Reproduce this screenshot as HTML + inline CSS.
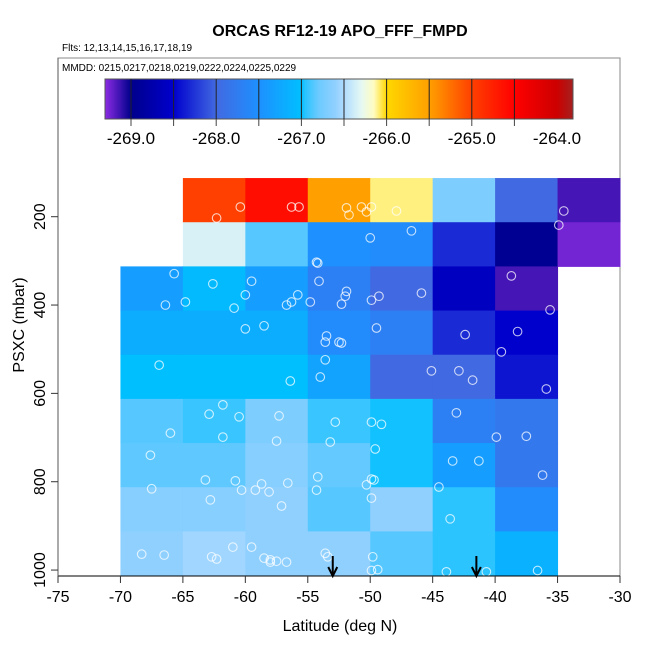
<!DOCTYPE html>
<html><head><meta charset="utf-8">
<style>
html,body{margin:0;padding:0;background:#fff;}
svg{display:block;font-family:"Liberation Sans",Arial,sans-serif;}
</style></head>
<body>
<svg id="chart" width="650" height="650" viewBox="0 0 650 650">
<defs>
<linearGradient id="cbar" x1="0" x2="1" y1="0" y2="0"></linearGradient>
</defs>
<text x="340" y="36" text-anchor="middle" font-size="16" font-weight="bold">ORCAS RF12-19 APO_FFF_FMPD</text>
<text x="62" y="51" font-size="10">Flts: 12,13,14,15,16,17,18,19</text>
<rect x="58" y="58" width="562" height="518" fill="none" stroke="#888" stroke-width="1"/>
<text x="62" y="71" font-size="10">MMDD: 0215,0217,0218,0219,0222,0224,0225,0229</text>
<g id="cells"></g>
<g id="points"></g>
<g id="arrows"></g>
<g id="colorbar"></g>
<g id="xaxis"></g>
<g id="yaxis"></g>
<text x="340" y="631" text-anchor="middle" font-size="16">Latitude (deg N)</text>
<text transform="translate(24,325) rotate(-90)" text-anchor="middle" font-size="16">PSXC (mbar)</text>
</svg>
<script>
const latBins = [-70,-65,-60,-55,-50,-45,-40,-35];
const presBins = [112.5,212.5,312.5,412.5,512.5,612.5,712.5,812.5,912.5];
const row0 = [null,-265.0,-264.6,-265.5,-266.1,-266.7,-268.0,-269.15];
const row1 = [null,-266.35,-266.85,-267.5,-267.55,-268.3,-268.95,-269.25];
const row2 = [-267.35,-267.05,-267.35,-267.7,-268.0,-268.6,-269.15,null];
const row3 = [-267.2,-267.2,-267.2,-267.55,-267.7,-268.3,-268.5,null];
const row4 = [-267.0,-267.0,-267.0,-267.3,-268.0,-268.0,-268.4,null];
const row5 = [-266.85,-266.92,-266.7,-266.92,-266.98,-267.7,-267.8,null];
const row6 = [-266.83,-266.83,-266.65,-266.82,-266.98,-267.35,-267.8,null];
const row7 = [-266.65,-266.65,-266.6,-266.85,-266.6,-266.95,-267.55,null];
const row8 = [-266.6,-266.55,-266.6,-266.6,-266.85,-266.95,-267.15,null];
const ptLat = [-60.4,-62.3,-56.3,-55.7,-51.9,-51.7,-50.7,-50.3,-49.9,-47.9,-34.5,-34.9,-50.0,-46.7,-54.3,-54.2,-65.7,-62.6,-59.5,-60.0,-66.4,-64.8,-60.9,-55.8,-56.3,-56.7,-54.8,-54.1,-51.9,-52.0,-52.3,-49.3,-49.9,-45.9,-38.7,-35.6,-60.0,-58.5,-53.5,-53.6,-52.5,-52.3,-49.5,-42.4,-38.2,-39.5,-66.9,-53.6,-54.0,-45.1,-42.9,-41.8,-56.4,-35.9,-61.8,-62.9,-60.5,-57.3,-66.0,-61.8,-57.5,-52.8,-53.2,-49.9,-49.1,-43.1,-39.9,-37.5,-49.6,-67.6,-43.4,-41.3,-63.2,-60.8,-58.7,-56.6,-60.3,-59.2,-58.1,-67.5,-54.2,-54.3,-49.9,-49.7,-50.3,-49.9,-36.2,-44.5,-62.8,-57.1,-43.6,-68.3,-66.5,-62.7,-62.3,-61.0,-59.5,-58.5,-58.0,-58.0,-57.5,-56.7,-53.6,-53.4,-49.8,-49.9,-49.4,-43.9,-40.7,-36.6];
const ptPres = [178,203,178,178,180,196,178,189,178,187,187,219,248,232,303,305,329,352,346,377,400,393,407,377,393,400,393,346,369,380,398,380,389,373,334,411,454,447,470,484,484,486,452,467,460,506,536,524,563,549,549,570,572,590,626,647,653,651,690,699,708,665,710,665,670,644,699,697,726,740,753,753,796,798,805,803,819,819,823,816,789,819,794,796,807,837,785,812,841,855,884,964,966,970,975,948,948,973,977,982,980,982,962,970,970,1001,999,1004,1004,1001];
const arrowLat = [-53.0,-41.5];
const xTicks = [-75,-70,-65,-60,-55,-50,-45,-40,-35,-30];
const yTicks = [200,400,600,800,1000];
const cbTicks = [-269,-268,-267,-266,-265,-264];
const cbStopVal = [-269.3,-269.0,-268.5,-268.0,-267.5,-267.0,-266.95,-266.8,-266.6,-266.5,-266.3,-266.15,-266.0,-265.5,-265.0,-264.5,-264.0,-263.8];
const cbStopCol = ['#8a2be2','#00008b','#0000cd','#4169e1','#1e90ff','#00bfff','#2cc4ff','#6ccaff','#90d0ff','#b0dcff','#e4f8f4','#fffcc0','#ffd700','#ffa000','#ff4000','#ff0000','#cd0000','#a52020'];

const rows=[row0,row1,row2,row3,row4,row5,row6,row7,row8];
const NS='http://www.w3.org/2000/svg';
const X=v=>58+(v+75)*(562/45);
const Y=p=>216.7+(p-200)*0.4417;
const CB=v=>131+(v+269)*85.2;
function hx(c){return [1,3,5].map(i=>parseInt(c.substr(i,2),16));}
function color(v){
  if(v<=cbStopVal[0])return cbStopCol[0];
  for(let i=1;i<cbStopVal.length;i++){
    if(v<=cbStopVal[i]){const t=(v-cbStopVal[i-1])/(cbStopVal[i]-cbStopVal[i-1]);
      const a=hx(cbStopCol[i-1]),b=hx(cbStopCol[i]);
      return 'rgb('+a.map((x,k)=>Math.round(x+(b[k]-x)*t)).join(',')+')';}
  }
  return cbStopCol[cbStopCol.length-1];
}
function mk(tag,attrs,parent){const e=document.createElementNS(NS,tag);for(const k in attrs)e.setAttribute(k,attrs[k]);parent.appendChild(e);return e;}
const cells=document.getElementById('cells');
rows.forEach((r,ri)=>r.forEach((v,ci)=>{
  if(v===null)return;
  const x0=X(latBins[ci]),x1=X(latBins[ci]+5),y0=Y(presBins[ri]),y1=Y(presBins[ri]+100);
  const e=mk('rect',{x:x0,y:y0,width:x1-x0+0.5,height:y1-y0+0.5,fill:color(v)},cells);
  
  
}));
const pts=document.getElementById('points');
ptLat.forEach((la,i)=>{
  const e=mk('circle',{cx:X(la),cy:Y(ptPres[i]),r:4.3,fill:'none',stroke:'#fff','stroke-opacity':0.75,'stroke-width':1.1},pts);
  
  
});
const ar=document.getElementById('arrows');
arrowLat.forEach(la=>{
  const x=X(la);
  const g=mk('g',{},ar);
  
  
  mk('line',{x1:x,y1:556,x2:x,y2:575,stroke:'#000','stroke-width':2},g);
  mk('path',{d:`M${x-4.5} ${567} L${x} ${576} L${x+4.5} ${567}`,fill:'none',stroke:'#000','stroke-width':2},g);
});
const grad=document.getElementById('cbar');
const cbL=105,cbR=573;
cbStopVal.forEach((v,i)=>{mk('stop',{offset:((CB(v)-cbL)/(cbR-cbL)),'stop-color':cbStopCol[i]},grad);});
const cb=document.getElementById('colorbar');
const bar=mk('rect',{x:cbL,y:79,width:cbR-cbL,height:40,fill:'url(#cbar)',stroke:'#555','stroke-width':1},cb);


for(let v=-269;v<=-264.01;v+=0.5){
  mk('line',{x1:CB(v),y1:79,x2:CB(v),y2:119,stroke:'#222','stroke-width':1},cb);
  mk('line',{x1:CB(v),y1:119,x2:CB(v),y2:126,stroke:'#444','stroke-width':1},cb);
}
cbTicks.forEach(v=>{
  const t=mk('text',{x:CB(v),y:144,'text-anchor':'middle','font-size':17},cb);
  t.textContent=v.toFixed(1);
  
  
});
const xa=document.getElementById('xaxis');
mk('line',{x1:58,y1:576,x2:620,y2:576,stroke:'#000','stroke-width':1},xa);
xTicks.forEach(v=>{
  mk('line',{x1:X(v),y1:576,x2:X(v),y2:583,stroke:'#333','stroke-width':1},xa);
  const t=mk('text',{x:X(v),y:602,'text-anchor':'middle','font-size':16},xa);
  t.textContent=v;
  
  
});
const ya=document.getElementById('yaxis');
mk('line',{x1:58,y1:58,x2:58,y2:576,stroke:'#555','stroke-width':1},ya);
yTicks.forEach(v=>{
  mk('line',{x1:51,y1:Y(v),x2:58,y2:Y(v),stroke:'#333','stroke-width':1},ya);
  const t=mk('text',{x:0,y:0,'text-anchor':'middle','font-size':16,transform:`translate(45,${Y(v)}) rotate(-90)`},ya);
  t.textContent=v;
  
  
});
</script>
</body></html>
